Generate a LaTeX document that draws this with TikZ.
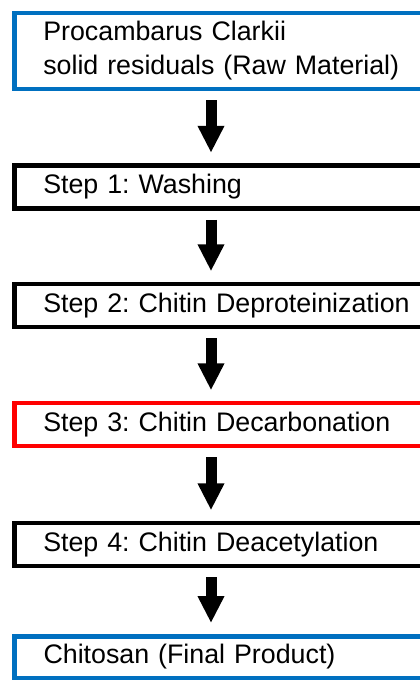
\documentclass[tikz,border=0pt]{standalone}
\usepackage{fontspec}
\setmainfont{Liberation Sans}
\usetikzlibrary{arrows.meta}
\definecolor{pblue}{RGB}{0,112,192}
\definecolor{pred}{RGB}{255,0,0}
\tikzset{
  stepbox/.style={draw=black, line width=4.5pt, fill=white, rectangle,
    minimum height=43pt, text width=385pt, align=left, inner xsep=29pt, inner ysep=0pt,
    font=\fontsize{26.8}{34}\selectfont\frenchspacing, anchor=west},
  bluebox/.style={stepbox, draw=pblue, line width=4.5pt},
  redbox/.style={stepbox, draw=pred},
  bigarrow/.style={line width=11pt, -{Triangle[width=25pt,length=27pt]},
    shorten <=9pt, shorten >=10.5pt}
}
\begin{document}
\begin{tikzpicture}[x=1pt,y=-1pt]
\clip (0,0) rectangle (420,680);
\fill[white] (0,0) rectangle (420,680);
\coordinate (ax) at (211,0);
\node[bluebox, minimum height=76pt] (b0) at (12,51) {Procambarus Clarkii\\solid residuals (Raw Material)};
\node[stepbox] (s1) at (12,187) {Step 1: Washing};
\node[stepbox] (s2) at (12,305.5) {Step 2: Chitin Deproteinization};
\node[redbox] (s3) at (12,424.5) {Step 3: Chitin Decarbonation};
\node[stepbox] (s4) at (12,544.5) {Step 4: Chitin Deacetylation};
\node[bluebox, line width=5pt, minimum height=42pt] (s5) at (12,657) {Chitosan (Final Product)};
\draw[bigarrow] (b0.south -| ax) -- (s1.north -| ax);
\draw[bigarrow] (s1.south -| ax) -- (s2.north -| ax);
\draw[bigarrow] (s2.south -| ax) -- (s3.north -| ax);
\draw[bigarrow] (s3.south -| ax) -- (s4.north -| ax);
\draw[bigarrow] (s4.south -| ax) -- (s5.north -| ax);
\end{tikzpicture}
\end{document}
